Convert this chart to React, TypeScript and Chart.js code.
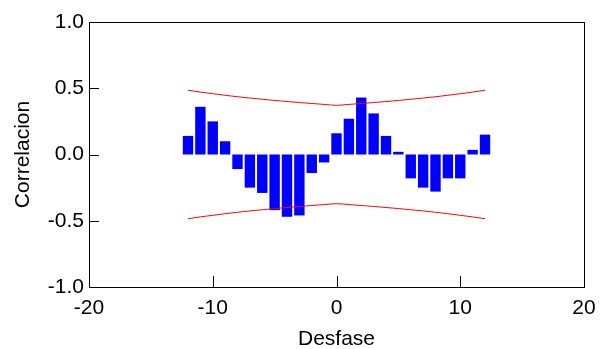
import React, { useEffect, useRef } from "react";
import { Chart, registerables } from "chart.js";

Chart.register(...registerables);

const lags = [-12, -11, -10, -9, -8, -7, -6, -5, -4, -3, -2, -1, 0, 1, 2, 3, 4, 5, 6, 7, 8, 9, 10, 11, 12];
const correlation = [0.14, 0.36, 0.25, 0.1, -0.11, -0.25, -0.29, -0.42, -0.47, -0.46, -0.14, -0.06, 0.16, 0.27, 0.43, 0.31, 0.14, 0.02, -0.18, -0.25, -0.28, -0.18, -0.18, 0.035, 0.15];
const upperBound = [0.485, 0.471, 0.459, 0.447, 0.436, 0.426, 0.417, 0.408, 0.4, 0.392, 0.385, 0.378, 0.371, 0.378, 0.385, 0.392, 0.4, 0.408, 0.417, 0.426, 0.436, 0.447, 0.459, 0.471, 0.485];
const lowerBound = [-0.485, -0.471, -0.459, -0.447, -0.436, -0.426, -0.417, -0.408, -0.4, -0.392, -0.385, -0.378, -0.371, -0.378, -0.385, -0.392, -0.4, -0.408, -0.417, -0.426, -0.436, -0.447, -0.459, -0.471, -0.485];
const xTicks = [-20, -10, 0, 10, 20];
const yTicks = [-1.0, -0.5, 0.0, 0.5, 1.0];

const FONT = "'Liberation Sans', Arial, sans-serif";

const frame = {
  id: "frame",
  afterDraw(chart: any) {
    const { ctx, chartArea: a, scales } = chart;
    ctx.save();
    ctx.strokeStyle = "#000";
    ctx.lineWidth = 1;
    ctx.strokeRect(Math.round(a.left) + 0.5, Math.round(a.top) + 0.5, Math.round(a.right - a.left), Math.round(a.bottom - a.top));
    ctx.beginPath();
    for (const v of yTicks.slice(1, -1)) {
      const y = Math.round(scales.y.getPixelForValue(v)) + 0.5;
      ctx.moveTo(a.left, y);
      ctx.lineTo(a.left + 10, y);
    }
    for (const v of xTicks.slice(1, -1)) {
      const x = Math.round(scales.x.getPixelForValue(v)) + 0.5;
      ctx.moveTo(x, a.bottom);
      ctx.lineTo(x, a.bottom - 11);
    }
    ctx.stroke();
    ctx.restore();
  },
};

export default function App() {
  const ref = useRef<HTMLCanvasElement>(null);
  useEffect(() => {
    const chart = new Chart(ref.current!, {
      type: "bar",
      data: {
        datasets: [
          {
            type: "line",
            data: lags.map((x, i) => ({ x, y: upperBound[i] })),
            borderColor: "#ff0000",
            borderWidth: 1,
            pointRadius: 0,
            tension: 0.3,
          } as any,
          {
            type: "line",
            data: lags.map((x, i) => ({ x, y: lowerBound[i] })),
            borderColor: "#ff0000",
            borderWidth: 1,
            pointRadius: 0,
            tension: 0.3,
          } as any,
          {
            type: "bar",
            data: lags.map((x, i) => ({ x, y: correlation[i] })),
            backgroundColor: "#0000ff",
            borderWidth: 0,
            barPercentage: 0.84,
            categoryPercentage: 1,
          },
        ],
      },
      options: {
        animation: false,
        responsive: false,
        maintainAspectRatio: false,
        layout: { padding: { left: 0, right: 16, top: 22, bottom: 0 } },
        plugins: { legend: { display: false }, tooltip: { enabled: false } },
        scales: {
          x: {
            type: "linear",
            offset: false,
            min: -20,
            max: 20,
            grid: { display: false, drawTicks: false, offset: false },
            border: { display: false },
            afterBuildTicks: (s: any) => { s.ticks = xTicks.map((v) => ({ value: v })); },
            afterFit: (s: any) => { s.height = 62; s.paddingLeft = 0; s.paddingRight = 0; },
            ticks: { color: "#000", font: { family: FONT, size: 21 }, padding: 9, maxRotation: 0 },
            title: { display: true, text: "Desfase", color: "#000", font: { family: FONT, size: 21 }, padding: { top: 0, bottom: -3 } },
          },
          y: {
            type: "linear",
            min: -1,
            max: 1,
            grid: { display: false, drawTicks: false },
            border: { display: false },
            afterBuildTicks: (s: any) => { s.ticks = yTicks.map((v) => ({ value: v })); },
            afterFit: (s: any) => { s.width = 89; s.paddingTop = 0; s.paddingBottom = 0; },
            ticks: { color: "#000", font: { family: FONT, size: 21 }, padding: 5, callback: (v: any) => Number(v).toFixed(1) },
            title: { display: true, text: "Correlacion", color: "#000", font: { family: FONT, size: 21 }, padding: { top: 11, bottom: 0 } },
          },
        },
      },
      plugins: [frame],
    });
    return () => chart.destroy();
  }, []);
  return (
    <div style={{ position: "fixed", left: 0, top: 0, width: 600, height: 349, background: "#fff" }}>
      <canvas ref={ref} width={600} height={349} style={{ width: 600, height: 349, display: "block" }} />
    </div>
  );
}
